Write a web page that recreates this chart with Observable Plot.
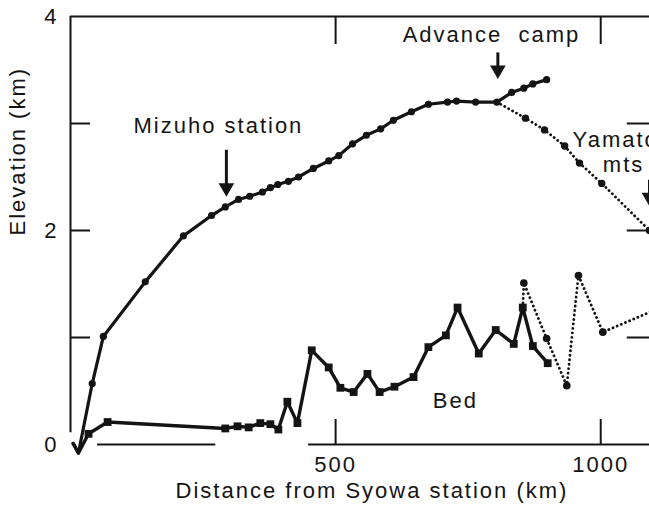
<!DOCTYPE html>
<html><head><meta charset="utf-8">
<script src="https://cdn.jsdelivr.net/npm/d3@7"></script>
<script src="https://cdn.jsdelivr.net/npm/@observablehq/plot@0.6"></script>
<style>
html,body{margin:0;padding:0;background:#fff;}
#chart svg text{letter-spacing:2px;}
</style></head><body><div id="chart"></div>
<script>
// Surface elevation along the route (solid, circles)
const surfaceDist = [5, 15, 41, 62, 141, 213, 266, 292, 317, 338, 362, 377, 391, 411, 430, 458, 487, 506, 532, 558, 585, 609, 643, 675, 711, 728, 764, 804, 832, 855, 872, 898];
const surfaceElev = [0.01, -0.08, 0.57, 1.01, 1.52, 1.95, 2.14, 2.22, 2.29, 2.32, 2.36, 2.40, 2.43, 2.46, 2.50, 2.58, 2.65, 2.70, 2.81, 2.89, 2.95, 3.03, 3.11, 3.18, 3.20, 3.21, 3.20, 3.20, 3.29, 3.33, 3.37, 3.41];
// Surface toward Yamato mountains (dotted, circles)
const yamatoDist = [804, 858, 894, 932, 960, 1002, 1092];
const yamatoElev = [3.20, 3.05, 2.94, 2.79, 2.63, 2.44, 2.00];
// Bed elevation (solid, squares)
const bedDist = [5, 15, 34, 70, 292, 315, 336, 358, 377, 392, 409, 428, 455, 487, 509, 534, 560, 583, 611, 647, 675, 708, 730, 770, 802, 836, 853, 872, 900];
const bedElev = [0.01, -0.08, 0.10, 0.21, 0.15, 0.17, 0.16, 0.20, 0.19, 0.14, 0.40, 0.20, 0.88, 0.72, 0.53, 0.49, 0.66, 0.49, 0.54, 0.63, 0.91, 1.02, 1.28, 0.85, 1.07, 0.94, 1.28, 0.92, 0.76];
// Bed toward Yamato mountains (dotted, circles)
const bedYamatoDist = [853, 855, 898, 936, 958, 1004, 1094];
const bedYamatoElev = [1.28, 1.51, 0.99, 0.55, 1.58, 1.05, 1.24];

const xTicks = [500, 1000];
const yTickMarks = [1, 2, 3];
const yTickLabels = [0, 2, 4];
const bottomAxisSegments = [[51, 274], [449, 1092]];

const centeredNotes = [
  {label: "Mizuho station", x: 279, y: 2.91},
  {label: "Advance\u00a0\u00a0camp", x: 794, y: 3.76},
  {label: "Bed", x: 726, y: 0.34}
];
const leftNotes = [
  {label: "Yamato", x: 947, y: 2.78},
  {label: "mts", x: 1004, y: 2.55}
];
const arrows = [
  {x: 294, top: 2.75, head: 2.40},
  {x: 806, top: 3.66, head: 3.50},
  {x: 1092, top: 2.47, head: 2.31}
];

const zip = (xs, ys) => xs.map((d, i) => ({d, e: ys[i]}));
const surface = zip(surfaceDist, surfaceElev);
const yamato = zip(yamatoDist, yamatoElev);
const bed = zip(bedDist, bedElev);
const bedYamato = zip(bedYamatoDist, bedYamatoElev);

const ink = "#141414";
const font = "Liberation Sans, Arial, Helvetica, sans-serif";
const dotted = {stroke: ink, strokeWidth: 2.8, strokeDasharray: "0.1,4.4", strokeLinecap: "round"};
const fmt = d => String(d);

const chart = Plot.plot({
  width: 649,
  height: 505,
  marginLeft: 70,
  marginRight: 0,
  marginTop: 16,
  marginBottom: 61,
  style: {fontFamily: font, fontSize: "22px", background: "#fff", color: ink},
  x: {domain: [0, 1092]},
  y: {domain: [0, 4]},
  marks: [
    // frame lines
    Plot.ruleY([4], {stroke: ink, strokeWidth: 2}),
    Plot.ruleX([0], {y1: 0.11, y2: 4, stroke: ink, strokeWidth: 2}),
    Plot.ruleY(bottomAxisSegments, {y: 0, x1: d => d[0], x2: d => d[1], stroke: ink, strokeWidth: 2}),
    // inward ticks
    Plot.axisY({ticks: yTickMarks, tickSize: -20, tickFormat: () => "", strokeWidth: 2, label: null}),
    Plot.axisX({anchor: "top", ticks: xTicks, tickSize: -27, tickFormat: () => "", strokeWidth: 2, label: null}),
    Plot.axisX({anchor: "bottom", ticks: xTicks, tickSize: -25, tickFormat: () => "", strokeWidth: 2, label: null}),
    // tick labels
    Plot.axisY({ticks: yTickLabels, tickSize: 0, tickPadding: 12, tickFormat: fmt, label: null, fontSize: 22, fill: ink}),
    Plot.axisX({anchor: "bottom", ticks: xTicks, tickSize: 0, tickPadding: 12, tickFormat: fmt, label: null, fontSize: 22, fill: ink}),
    // right-axis inward ticks
    Plot.ruleY(yTickMarks, {y: d => d, x1: 1050, x2: 1092, stroke: ink, strokeWidth: 2}),
    // dotted branches
    Plot.line(yamato, {x: "d", y: "e", ...dotted}),
    Plot.dot(yamato.slice(1), {x: "d", y: "e", r: 3.7, fill: ink}),
    Plot.line(bedYamato, {x: "d", y: "e", ...dotted}),
    Plot.dot(bedYamato.slice(1, -1), {x: "d", y: "e", r: 3.8, fill: ink}),
    // surface
    Plot.line(surface, {x: "d", y: "e", stroke: ink, strokeWidth: 3.2, strokeLinejoin: "round"}),
    Plot.dot(surface.slice(2), {x: "d", y: "e", r: 3.6, fill: ink}),
    // bed
    Plot.line(bed, {x: "d", y: "e", stroke: ink, strokeWidth: 3.4, strokeLinejoin: "round"}),
    Plot.dot(bed.slice(2), {x: "d", y: "e", symbol: "square", r: 4.4, fill: ink}),
    // arrows
    Plot.ruleX(arrows, {x: "x", y1: "top", y2: "head", stroke: ink, strokeWidth: 3}),
    Plot.dot(arrows, {x: "x", y: "head", symbol: "triangle", rotate: 180, r: 5.8, fill: ink}),
    // annotations
    Plot.text(centeredNotes, {x: "x", y: "y", text: "label", textAnchor: "middle", lineAnchor: "bottom", fontSize: 22, fill: ink}),
    Plot.text(leftNotes, {x: "x", y: "y", text: "label", textAnchor: "start", lineAnchor: "bottom", fontSize: 22, fill: ink}),
    Plot.text(["Elevation (km)"], {frameAnchor: "left", dx: -53, dy: 5, rotate: -90, fontSize: 22, fill: ink}),
    Plot.text(["Distance from Syowa station (km)"], {frameAnchor: "bottom", dx: 12, dy: 53, lineAnchor: "bottom", fontSize: 22, fill: ink})
  ]
});
document.getElementById("chart").appendChild(chart);
</script></body></html>
